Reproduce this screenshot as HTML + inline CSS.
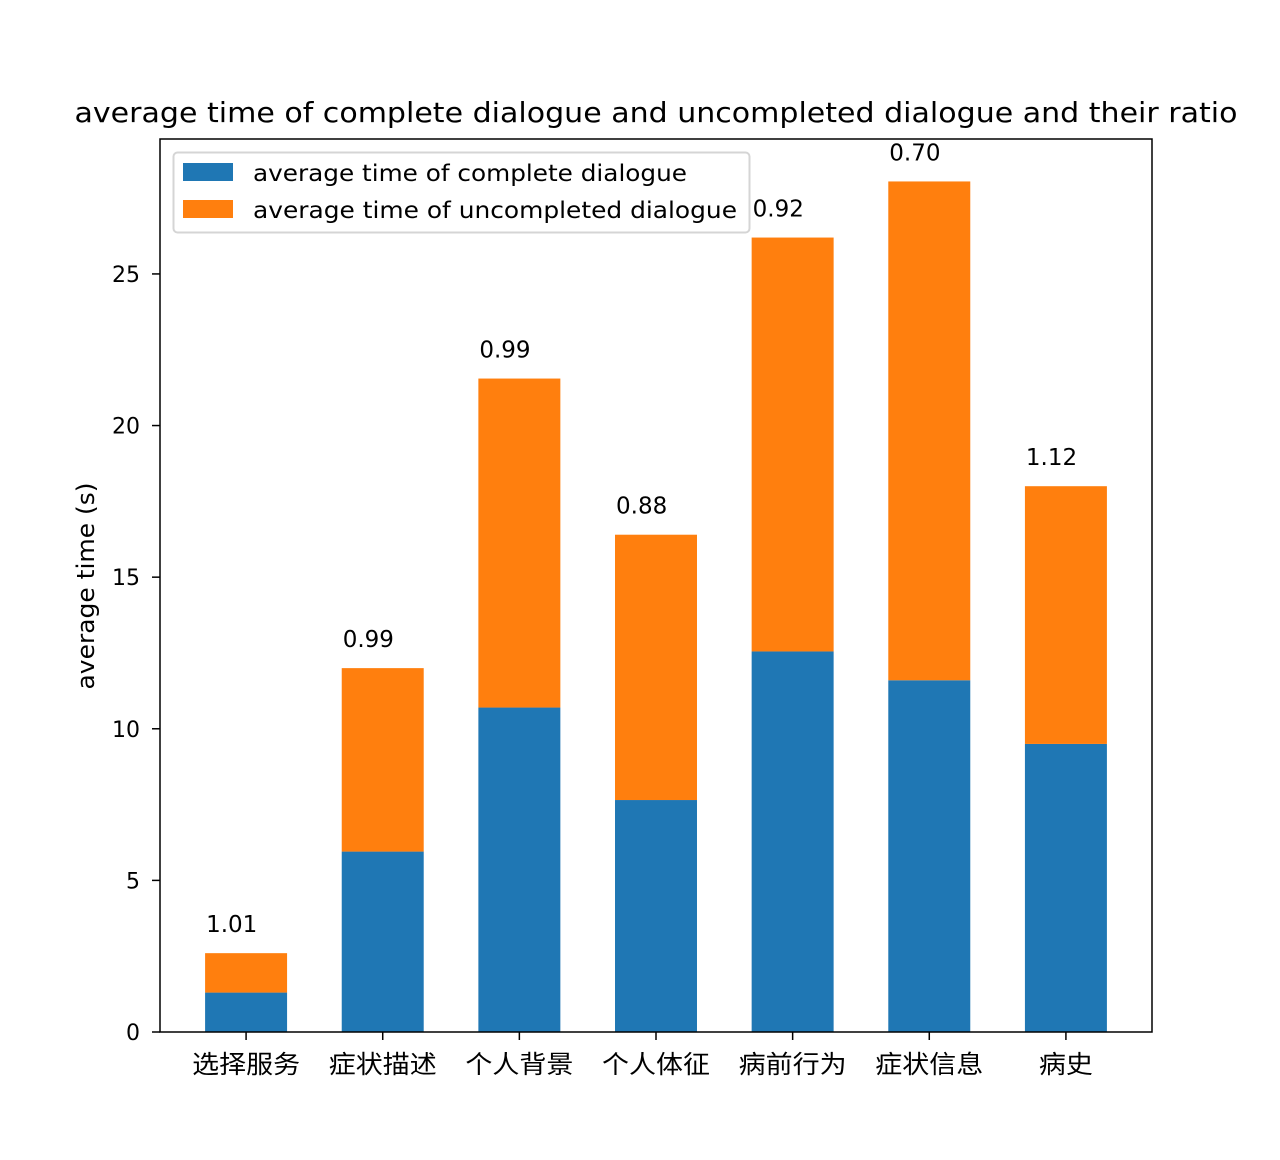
<!DOCTYPE html>
<html><head><meta charset="utf-8">
<style>
html,body{margin:0;padding:0;background:#fff;}
svg{display:block;font-family:"DejaVu Sans","Liberation Sans","Noto Sans CJK SC",sans-serif;}
</style></head>
<body>
<svg id="chart" width="1280" height="1160" viewBox="0 0 1280 1160" xmlns="http://www.w3.org/2000/svg">
<rect x="0" y="0" width="1280" height="1160" fill="#fff"/>
<text x="656" y="122" font-size="28" text-anchor="middle" fill="#000" textLength="1163" lengthAdjust="spacingAndGlyphs">average time of complete dialogue and uncompleted dialogue and their ratio</text>
<g id="plot"></g>
<text transform="translate(94,586) rotate(-90)" font-size="24" text-anchor="middle" fill="#000" textLength="207" lengthAdjust="spacingAndGlyphs">average time (s)</text>
</svg>
<script>
const categories = ["选择服务","症状描述","个人背景","个人体征","病前行为","症状信息","病史"];
const completeTimes = [1.3, 5.95, 10.7, 7.65, 12.55, 11.6, 9.5];
const totalTimes = [2.6, 12.0, 21.55, 16.4, 26.2, 28.05, 18.0];
const ratioLabels = ["1.01","0.99","0.99","0.88","0.92","0.70","1.12"];
const yTicks = [0,5,10,15,20,25];

const NS="http://www.w3.org/2000/svg";
const L=160,R=1152,T=139,B=1032;
const yMax=29.45, xMin=-0.63, xMax=6.63, barW=0.6;
const xs=v=>L+(v-xMin)/(xMax-xMin)*(R-L);
const ys=v=>B-v/yMax*(B-T);
const g=document.getElementById('plot');
function mk(tag,attrs,parent){const e=document.createElementNS(NS,tag);for(const k in attrs)e.setAttribute(k,attrs[k]);(parent||g).appendChild(e);return e;}

categories.forEach((c,i)=>{
  const x0=xs(i-barW/2), w=xs(i+barW/2)-x0;
  const b1=mk('rect',{x:x0,y:ys(completeTimes[i]),width:w,height:ys(0)-ys(completeTimes[i]),fill:'#1f77b4'});
  
  
  const b2=mk('rect',{x:x0,y:ys(totalTimes[i]),width:w,height:ys(completeTimes[i])-ys(totalTimes[i]),fill:'#ff7f0e'});
  
  
  const t=mk('text',{x:x0+1,y:ys(totalTimes[i])-21,'font-size':'23',fill:'#000'});
  t.textContent=ratioLabels[i];
  
  
  mk('line',{x1:xs(i),x2:xs(i),y1:B,y2:B+8,stroke:'#000','stroke-width':1.5});
  const xl=mk('text',{x:xs(i),y:B+41,'font-size':'25','text-anchor':'middle',fill:'#000',textLength:String(27*c.length),lengthAdjust:'spacingAndGlyphs'});
  xl.textContent=c;
  
  
});
yTicks.forEach(v=>{
  mk('line',{x1:L-8,x2:L,y1:ys(v),y2:ys(v),stroke:'#000','stroke-width':1.5});
  const t=mk('text',{x:L-20,y:ys(v)+8,'font-size':'22','text-anchor':'end',fill:'#000'});
  t.textContent=v;
  
  
});
const frame=mk('rect',{x:L,y:T,width:R-L,height:B-T,fill:'none',stroke:'#000','stroke-width':1.5});



const lg=mk('g',{});


mk('rect',{x:173.5,y:152.5,width:576,height:80,rx:4,fill:'#fff','fill-opacity':0.8,stroke:'#d5d5d5','stroke-width':2},lg);
mk('rect',{x:183,y:163,width:50,height:18,fill:'#1f77b4'},lg);
mk('rect',{x:183,y:200,width:50,height:18,fill:'#ff7f0e'},lg);
const l1=mk('text',{x:253,y:181,'font-size':'23',fill:'#000',textLength:'434',lengthAdjust:'spacingAndGlyphs'},lg);
l1.textContent='average time of complete dialogue';


const l2=mk('text',{x:253,y:218,'font-size':'23',fill:'#000',textLength:'484',lengthAdjust:'spacingAndGlyphs'},lg);
l2.textContent='average time of uncompleted dialogue';


</script>
</body></html>
